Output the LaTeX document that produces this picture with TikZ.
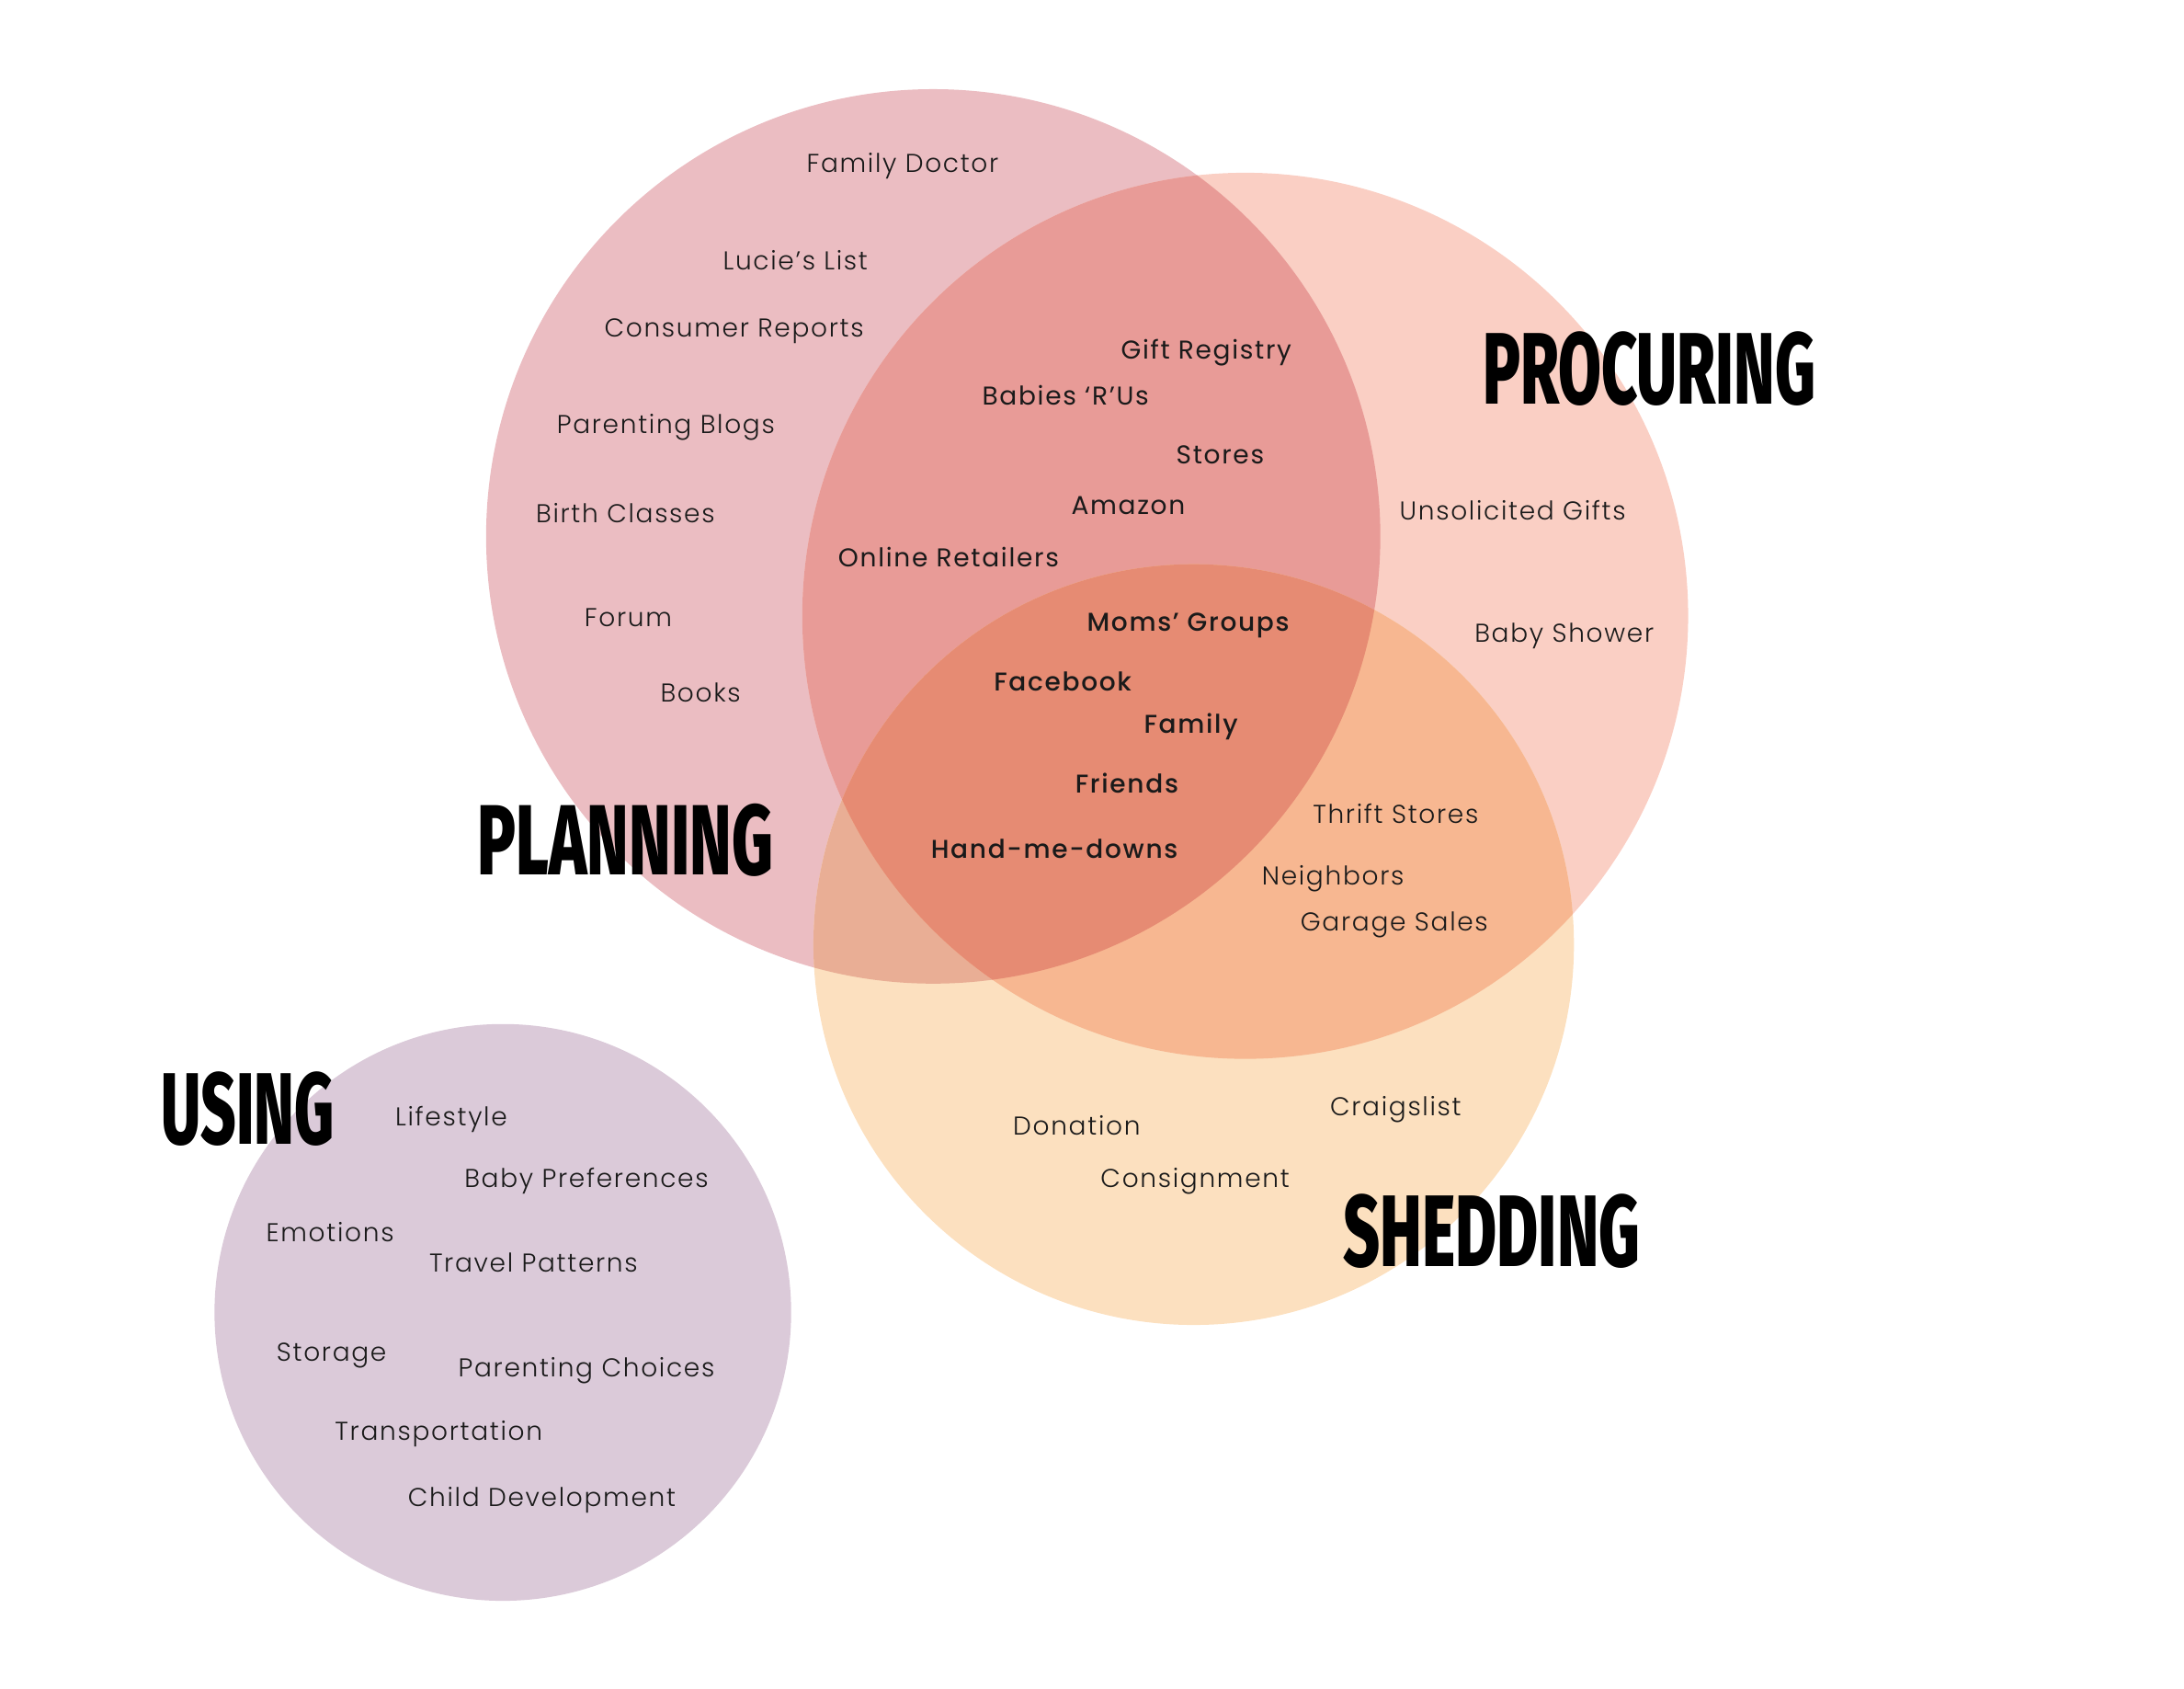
\documentclass[tikz,border=0pt]{standalone}
\usepackage{fontspec}
\newfontfamily\lightfont{Poppins Light}[LetterSpace=6]
\newfontfamily\plainfont{Poppins}[LetterSpace=6]
\newfontfamily\corefont{Poppins Medium}[LetterSpace=6]
\newfontfamily\headfont{Fira Sans ExtraBold}

\definecolor{usefill}{HTML}{DBCAD9}
\definecolor{planfill}{HTML}{EBBDC2}
\definecolor{procfill}{HTML}{FACFC4}
\definecolor{shedfill}{HTML}{FCE0BF}
\definecolor{planproc}{HTML}{E89B97}
\definecolor{planshed}{HTML}{E9AE95}
\definecolor{procshed}{HTML}{F7B791}
\definecolor{allthree}{HTML}{E68B73}
\definecolor{inkgrey}{HTML}{1A1A1A}

\newcommand{\phasename}[3]{\resizebox{#2}{#3}{\headfont #1}}

\begin{document}
\begin{tikzpicture}[x=1pt, y=-1pt,
item/.style={anchor=base, inner sep=0pt, text=inkgrey, font=\lightfont\fontsize{18.5}{22}\selectfont},
shared/.style={item, font=\plainfont\fontsize{18.5}{22}\selectfont},
core/.style={item, font=\corefont\fontsize{18.5}{22}\selectfont},
phase/.style={inner sep=0pt, text=black}
]
\useasboundingbox (0,0) rectangle (1568,1212);

% circle centres
\coordinate (use) at (361,942);
\coordinate (plan) at (670,385);
\coordinate (proc) at (894,442);
\coordinate (shed) at (857,678);

\fill[usefill] (use) circle (207pt);
\fill[planfill] (plan) circle (321pt);
\fill[procfill] (proc) circle (318pt);
\fill[shedfill] (shed) circle (273pt);
\begin{scope}
\clip (plan) circle (321pt);
\fill[planproc] (proc) circle (318pt);
\fill[planshed] (shed) circle (273pt);
\end{scope}
\begin{scope}
\clip (proc) circle (318pt);
\fill[procshed] (shed) circle (273pt);
\clip (plan) circle (321pt);
\fill[allthree] (shed) circle (273pt);
\end{scope}

% planning
\node[item] (doctor) at (648,124) {Family Doctor};
\node[item] (lucie) at (571,194) {Lucie’s List};
\node[item] (consumer) at (527,242) {Consumer Reports};
\node[item] (blogs) at (478,311) {Parenting Blogs};
\node[item] (birth) at (449,375) {Birth Classes};
\node[item] (forum) at (451,450) {Forum};
\node[item] (books) at (503,504) {Books};

% planning + procuring
\node[shared] (registry) at (866,258) {Gift Registry};
\node[shared] (babies) at (765,291) {Babies ‘R’Us};
\node[shared] (stores) at (876,333) {Stores};
\node[shared] (amazon) at (810,369) {Amazon};
\node[shared] (online) at (681,407) {Online Retailers};

% all three
\node[core] (moms) at (853,453) {Moms’ Groups};
\node[core] (facebook) at (763,496) {Facebook};
\node[core] (family) at (855,526) {Family};
\node[core] (friends) at (809,569) {Friends};
\node[core] (handme) at (757,616) {Hand-me-downs};

% procuring, shedding
\node[item] (unsolicited) at (1086,373) {Unsolicited Gifts};
\node[item] (shower) at (1123,461) {Baby Shower};
\node[item] (thrift) at (1002,591) {Thrift Stores};
\node[item] (neighbors) at (957,635) {Neighbors};
\node[item] (garage) at (1001,668) {Garage Sales};
\node[item] (craigslist) at (1002,801) {Craigslist};
\node[item] (donation) at (773,815) {Donation};
\node[item] (consign) at (858,852) {Consignment};

% using
\node[item] (lifestyle) at (324,808) {Lifestyle};
\node[item] (babypref) at (421,852) {Baby Preferences};
\node[item] (emotions) at (237,891) {Emotions};
\node[item] (travel) at (383,913) {Travel Patterns};
\node[item] (storage) at (238,977) {Storage};
\node[item] (choices) at (421,988) {Parenting Choices};
\node[item] (transport) at (315,1034) {Transportation};
\node[item] (childdev) at (389,1081) {Child Development};

% phase titles
\node[phase] (planning) at (449,603) {\phasename{PLANNING}{212pt}{51pt}};
\node[phase] (procuring) at (1184,265) {\phasename{PROCURING}{239pt}{52pt}};
\node[phase] (shedding) at (1071,884) {\phasename{SHEDDING}{213pt}{52pt}};
\node[phase] (using) at (178,796) {\phasename{USING}{124pt}{52pt}};
\end{tikzpicture}
\end{document}
